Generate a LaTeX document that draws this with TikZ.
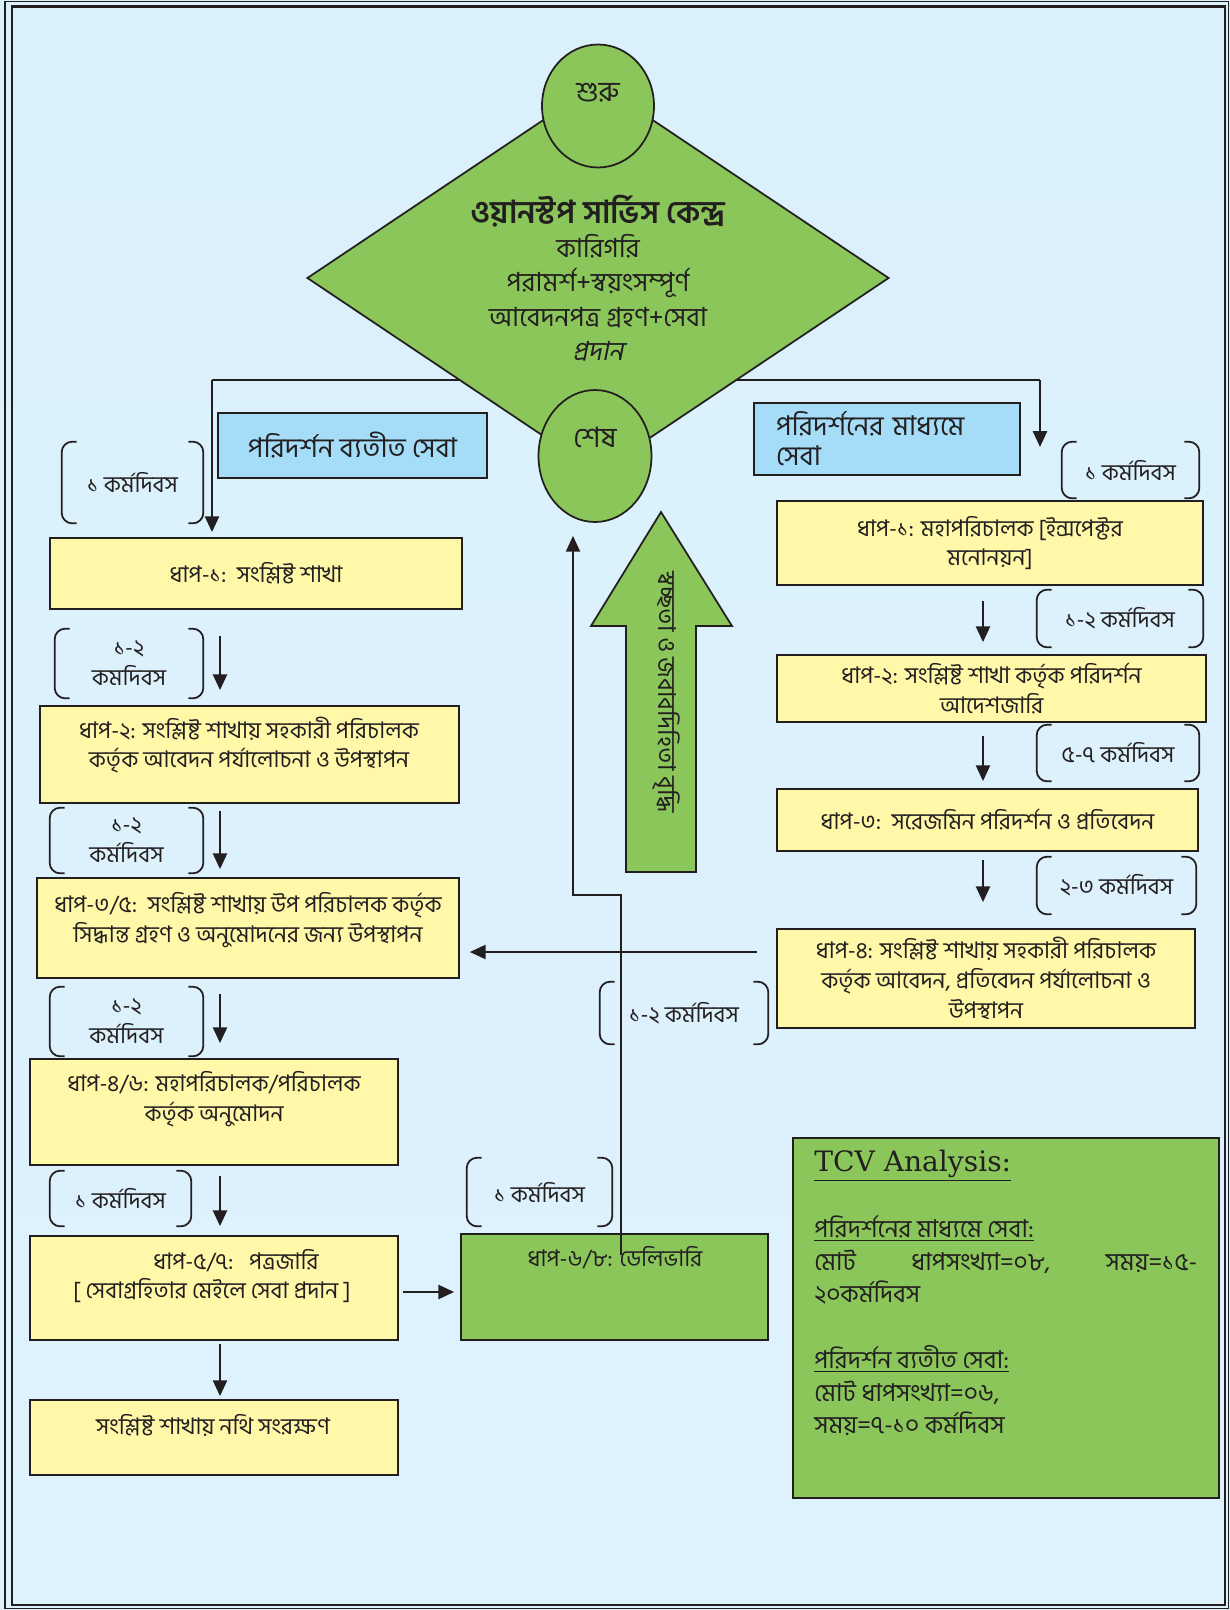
\documentclass[tikz,border=0pt]{standalone}
\usepackage{fontspec}
\setmainfont[Script=Bengali]{Hind Siliguri}
\newfontfamily\slantbn[Script=Bengali,FakeSlant=0.2]{Hind Siliguri}
\newfontfamily\tcvfont{DejaVu Serif}
\usepackage{tikz}
\usetikzlibrary{arrows.meta,
                positioning,
                shapes.geometric}
\definecolor{bgtop}{RGB}{218,240,251}
\definecolor{bgmid}{RGB}{238,247,253}
\definecolor{bgbot}{RGB}{222,242,252}
\definecolor{ink}{RGB}{35,31,32}
\definecolor{leaf}{RGB}{139,198,90}
\definecolor{butter}{RGB}{255,248,168}
\definecolor{sky}{RGB}{165,220,247}
\tikzstyle{arrow} = [line width=1.3pt,draw=ink,->,>={Triangle[length=9pt,width=8pt]}]
\tikzstyle{stepbox} = [rectangle,draw=ink,line width=1pt,fill=butter,inner sep=2pt,align=center]
\tikzstyle{greenbox} = [rectangle,draw=ink,line width=1pt,fill=leaf,align=center]
\tikzstyle{bluebox} = [rectangle,draw=ink,line width=1pt,fill=sky,font=\fontsize{15.5}{17}\selectfont]
\tikzstyle{daybox} = [rectangle,inner sep=0pt,align=center]
\tikzstyle{brk} = [draw=ink,line width=1pt,rounded corners=6pt]

\begin{document}
\begin{tikzpicture}[x=0.02cm,y=-0.02cm,font=\fontsize{13}{17}\selectfont,text=ink]

    % background and frame
    \fill[top color=bgtop,middle color=bgmid,bottom color=bgbot] (0,0) rectangle (1230,1610);
    \useasboundingbox (0,0) rectangle (1230,1610);
    \draw[ink,line width=0.8pt] (5,1.5) rectangle (1228.5,1608.5);
    \draw[ink,line width=1.6pt] (12,6.5) rectangle (1225,1605);

    % split line behind the hub
    \coordinate (splitL) at (212,380);
    \coordinate (splitR) at (1040,380);
    \draw[ink,line width=1.3pt] (splitL) -- (splitR);

    \node[diamond,draw=ink,line width=1pt,fill=leaf,aspect=1.49,minimum width=11.64cm,minimum height=7.8cm,inner sep=0pt,align=center,font=\fontsize{15}{19.5}\selectfont] (hub) at (598,278) {{\bfseries\fontsize{18}{19.5}\selectfont ওয়ানস্টপ সার্ভিস কেন্দ্র}\\ কারিগরি\\ পরামর্শ+স্বয়ংসম্পূর্ণ\\ আবেদনপত্র গ্রহণ+সেবা\\ {\slantbn প্রদান}};
    \node[ellipse,draw=ink,line width=1pt,fill=leaf,minimum width=2.24cm,minimum height=2.46cm,inner sep=0pt] (start) at (598,106) {};
    \node[font=\fontsize{16}{17}\selectfont] (startlbl) at (598,93) {শুরু};
    \node[ellipse,draw=ink,line width=1pt,fill=leaf,minimum width=2.26cm,minimum height=2.64cm,inner sep=0pt] (finish) at (595,456) {};
    \node[font=\fontsize{16}{17}\selectfont] (finishlbl) at (595,437) {শেষ};

    % big arrow
    \draw[draw=ink,line width=1pt,fill=leaf] (626,872) -- (626,626) -- (591,626) -- (661,512) -- (732,626) -- (696,626) -- (696,872) -- cycle;
    \node[rotate=-90,font=\fontsize{14}{17}\selectfont] (upward) at (666,692) {স্বচ্ছতা ও জবাবদিহিতা বৃদ্ধি};

    % left column
    \node[bluebox,minimum width=5.38cm,minimum height=1.3cm] (noinsp) at (352.5,445.5) {পরিদর্শন ব্যতীত সেবা};
    \node[stepbox,minimum width=8.24cm,minimum height=1.42cm] (l1) at (256,573.5) {ধাপ-১:~~সংশ্লিষ্ট শাখা};
    \node[stepbox,minimum width=8.38cm,minimum height=1.94cm] (l2) at (249.5,754.5) {};
    \node[align=center] (l2lbl) at (249,745) {ধাপ-২: সংশ্লিষ্ট শাখায় সহকারী পরিচালক\\কর্তৃক আবেদন পর্যালোচনা ও উপস্থাপন};
    \node[stepbox,minimum width=8.44cm,minimum height=2cm] (l3) at (248,928) {};
    \node[align=center] (l3lbl) at (248,920) {ধাপ-৩/৫:~~সংশ্লিষ্ট শাখায় উপ পরিচালক কর্তৃক\\সিদ্ধান্ত গ্রহণ ও অনুমোদনের জন্য উপস্থাপন};
    \node[stepbox,minimum width=7.36cm,minimum height=2.12cm] (l4) at (214,1112) {};
    \node[align=center] (l4lbl) at (214,1099) {ধাপ-৪/৬: মহাপরিচালক/পরিচালক\\কর্তৃক অনুমোদন};
    \node[stepbox,minimum width=7.36cm,minimum height=2.08cm] (l5) at (214,1288) {};
    \node[align=center] (l5lbl) at (212,1276) {\hspace*{0.96cm}ধাপ-৫/৭:~~~পত্রজারি\\{[} সেবাগ্রহিতার মেইলে সেবা প্রদান ]};
    \node[stepbox,minimum width=7.36cm,minimum height=1.5cm] (l6) at (214,1437.5) {};
    \node (l6lbl) at (213,1425) {সংশ্লিষ্ট শাখায় নথি সংরক্ষণ};
    \node[greenbox,minimum width=6.14cm,minimum height=2.12cm] (deliv) at (614.5,1287) {};
    \node (delivlbl) at (615,1258) {ধাপ-৬/৮: ডেলিভারি};

    % right column
    \node[bluebox,minimum width=5.32cm,minimum height=1.44cm,inner xsep=0.44cm,text width=4.44cm,align=left] (insp) at (887,439) {পরিদর্শনের মাধ্যমে\\সেবা};
    \node[stepbox,minimum width=8.52cm,minimum height=1.68cm] (r1) at (990,543) {ধাপ-১: মহাপরিচালক [ইন্সপেক্টর\\মনোনয়ন]};
    \node[stepbox,minimum width=8.58cm,minimum height=1.34cm] (r2) at (991.5,688.5) {ধাপ-২: সংশ্লিষ্ট শাখা কর্তৃক পরিদর্শন\\আদেশজারি};
    \node[stepbox,minimum width=8.42cm,minimum height=1.24cm] (r3) at (987.5,820) {ধাপ-৩:~~সরেজমিন পরিদর্শন ও প্রতিবেদন};
    \node[stepbox,minimum width=8.36cm,minimum height=1.98cm] (r4) at (986,978.5) {ধাপ-৪: সংশ্লিষ্ট শাখায় সহকারী পরিচালক\\কর্তৃক আবেদন, প্রতিবেদন পর্যালোচনা ও\\উপস্থাপন};

    % working days
    \node[daybox,minimum width=2.82cm,minimum height=1.62cm] (bL1) at (132.5,482.5) {১ কর্মদিবস};
    \node[daybox,minimum width=2.96cm,minimum height=1.38cm] (bL2) at (129,663.5) {১-২\\কমদিবস};
    \node[daybox,minimum width=3.06cm,minimum height=1.3cm] (bL3) at (126.5,840.5) {১-২\\কর্মদিবস};
    \node[daybox,minimum width=3.06cm,minimum height=1.38cm] (bL4) at (126.5,1021.5) {১-২\\কর্মদিবস};
    \node[daybox,minimum width=2.82cm,minimum height=1.1cm] (bL5) at (120.5,1198.5) {১ কর্মদিবস};
    \node[daybox,minimum width=3.36cm,minimum height=1.24cm] (bM1) at (684,1013) {১-২ কর্মদিবস};
    \node[daybox,minimum width=2.9cm,minimum height=1.36cm] (bM2) at (539.5,1192) {১ কর্মদিবস};
    \node[daybox,minimum width=2.74cm,minimum height=1.12cm] (bR1) at (1130.5,470) {১ কর্মদিবস};
    \node[daybox,minimum width=3.32cm,minimum height=1.14cm] (bR2) at (1120,618.5) {১-২ কর্মদিবস};
    \node[daybox,minimum width=3.24cm,minimum height=1.12cm] (bR3) at (1118,753) {৫-৭ কর্মদিবস};
    \node[daybox,minimum width=3.18cm,minimum height=1.14cm] (bR4) at (1116.5,885.5) {২-৩ কর্মদিবস};
    \foreach \b in {bL1,bL2,bL3,bL4,bL5,bM1,bM2,bR1,bR2,bR3,bR4}{
        \draw[brk] ([xshift=0.3cm]\b.north west) -- (\b.north west) -- (\b.south west) -- ([xshift=0.3cm]\b.south west);
        \draw[brk] ([xshift=-0.3cm]\b.north east) -- (\b.north east) -- (\b.south east) -- ([xshift=-0.3cm]\b.south east);
    }

    % TCV
    \node[greenbox,minimum width=8.52cm,minimum height=7.2cm] (tcv) at (1006,1318) {};
    \node[anchor=north west,align=left,inner sep=0pt,font=\fontsize{14}{18.5}\selectfont] (tcvtxt) at (814,1150) {{\tcvfont\fontsize{16}{18}\selectfont\underline{TCV Analysis:}}\\[19pt]
        \underline{পরিদর্শনের মাধ্যমে সেবা:}\\
        \hbox to 7.66cm{মোট\hfill ধাপসংখ্যা=০৮,\hfill সময়=১৫-}\\
        ২০কর্মদিবস\\[19pt]
        \underline{পরিদর্শন ব্যতীত সেবা:}\\
        মোট ধাপসংখ্যা=০৬,\\
        সময়=৭-১০ কর্মদিবস};

    % connectors
    \coordinate (colL) at (220,0);
    \coordinate (colR) at (983,0);
    \coordinate (rtip) at (1040,447);
    \draw[arrow,shorten >=0.1cm] (splitL) -- (splitL |- l1.north);
    \draw[arrow] (splitR) -- (rtip);
    \foreach \a/\b/\s/\e in {l1/l2/0.52/0.3, l2/l3/0.14/0.16, l3/l4/0.3/0.3, l4/l5/0.2/0.18, l5/l6/0.06/0.06}
        \draw[arrow,shorten <=\s cm,shorten >=\e cm] (\a.south -| colL) -- (\b.north -| colL);
    \foreach \a/\b/\s/\e in {r1/r2/0.3/0.24, r2/r3/0.26/0.14, r3/r4/0.16/0.52}
        \draw[arrow,shorten <=\s cm,shorten >=\e cm] (\a.south -| colR) -- (\b.north -| colR);
    \coordinate (rowA) at (0,952);
    \coordinate (rowB) at (0,1292);
    \draw[arrow,shorten <=0.38cm,shorten >=0.2cm] (r4.west |- rowA) -- (l3.east |- rowA);
    \draw[arrow,shorten <=0.08cm,shorten >=0.12cm] (l5.east |- rowB) -- (deliv.west |- rowB);
    \coordinate (retstart) at (621,1255);
    \coordinate (bend) at (573,895);
    \draw[arrow,line width=1.1pt,shorten >=0.26cm] (retstart) |- (bend) -- (bend |- finish.south);
\end{tikzpicture}
\end{document}
